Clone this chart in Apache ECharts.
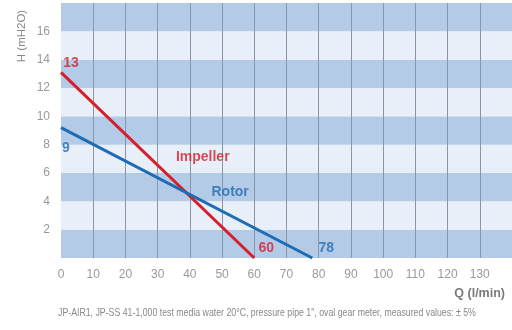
<!DOCTYPE html>
<html><head><meta charset="utf-8">
<script src="https://cdn.jsdelivr.net/npm/echarts@6/dist/echarts.min.js"></script>
<style>html,body{margin:0;padding:0;background:#fff}#c{width:512px;height:330px}</style>
</head><body><div id="c"></div>
<script>
var xTicks = [0,10,20,30,40,50,60,70,80,90,100,110,120,130];
var yTicks = [2,4,6,8,10,12,14,16];
var impeller = [[0,13.1],[60,0]];
var rotor = [[0,9.2],[78,0]];
var impellerEndLabels = ['13','60'];
var rotorEndLabels = ['9','78'];
var curveNames = ['Impeller','Rotor'];
var curveNamePos = [[44,7.1],[52.5,4.65]];
var yTitle = 'H (mH2O)';
var xTitle = 'Q (l/min)';
var footnote = 'JP-AIR1, JP-SS 41-1,000 test media water 20°C, pressure pipe 1", oval gear meter, measured values: ± 5%';

var RED = '#d51f2a', BLUE = '#1e6cb3';
var FONT = 'Liberation Sans, Arial, sans-serif';
var chart = echarts.init(document.getElementById('c'));
function endLabels(data, labels, color, offs){
  return data.map(function(d,i){
    return {value:d, label:{show:true, formatter:labels[i], color:color, fontSize:14, fontWeight:'bold',
      fontFamily:FONT, position:'inside', offset:offs[i]}};
  });
}
chart.setOption({
  animation:false,
  grid:{left:61, top:3, right:0, bottom:72, outerBoundsMode:'none', containLabel:false},
  xAxis:{type:'value', min:0, max:140, interval:10,
    axisLine:{show:false}, axisTick:{show:false},
    axisLabel:{color:'#999', fontSize:12, margin:11, fontFamily:FONT,
      formatter:function(v){return xTicks.indexOf(v)>=0 ? String(v) : '';}},
    splitLine:{show:true, showMinLine:false, showMaxLine:false, lineStyle:{color:'#8a95a5', width:1}},
    name:xTitle, nameLocation:'end', nameGap:0,
    nameTextStyle:{color:'#7a7a7a', fontSize:12.5, fontWeight:'bold', align:'right', verticalAlign:'top', padding:[29,7,0,0],
      fontFamily:FONT}},
  yAxis:{type:'value', min:0, max:18, interval:2,
    axisLine:{show:false}, axisTick:{show:false},
    axisLabel:{color:'#999', fontSize:12, margin:11, fontFamily:FONT,
      formatter:function(v){return yTicks.indexOf(v)>=0 ? String(v) : '';}},
    splitLine:{show:false},
    splitArea:{show:true, areaStyle:{color:['#b4cbe8','#e8eff9']}}},
  series:[
    {type:'line', data:impeller, symbol:'none', lineStyle:{color:RED, width:3}, z:3},
    {type:'line', data:rotor, symbol:'none', lineStyle:{color:BLUE, width:3}, z:4},
    {type:'scatter', symbolSize:0, z:5, data:endLabels(impeller, impellerEndLabels, RED, [[10,-9],[12,-10]])},
    {type:'scatter', symbolSize:0, z:5, data:endLabels(rotor, rotorEndLabels, BLUE, [[5,20],[14,-10]])},
    {type:'scatter', symbolSize:0, z:5,
      data:curveNames.map(function(n,i){return {value:curveNamePos[i], label:{show:true, formatter:n, position:'inside',
        color: i===0?RED:BLUE, fontSize:14, fontWeight:'bold', fontFamily:FONT}};})}
  ],
  graphic:[
    {type:'text', x:22, y:36, rotation:Math.PI/2, style:{text:yTitle, fill:'#888', fontSize:11.5, fontFamily:FONT, align:'center', verticalAlign:'middle'}},
    {type:'text', left:58, top:308, scaleX:0.834, style:{text:footnote, fill:'#888', fontSize:10.5, fontFamily:FONT}}
  ]
});
</script></body></html>
